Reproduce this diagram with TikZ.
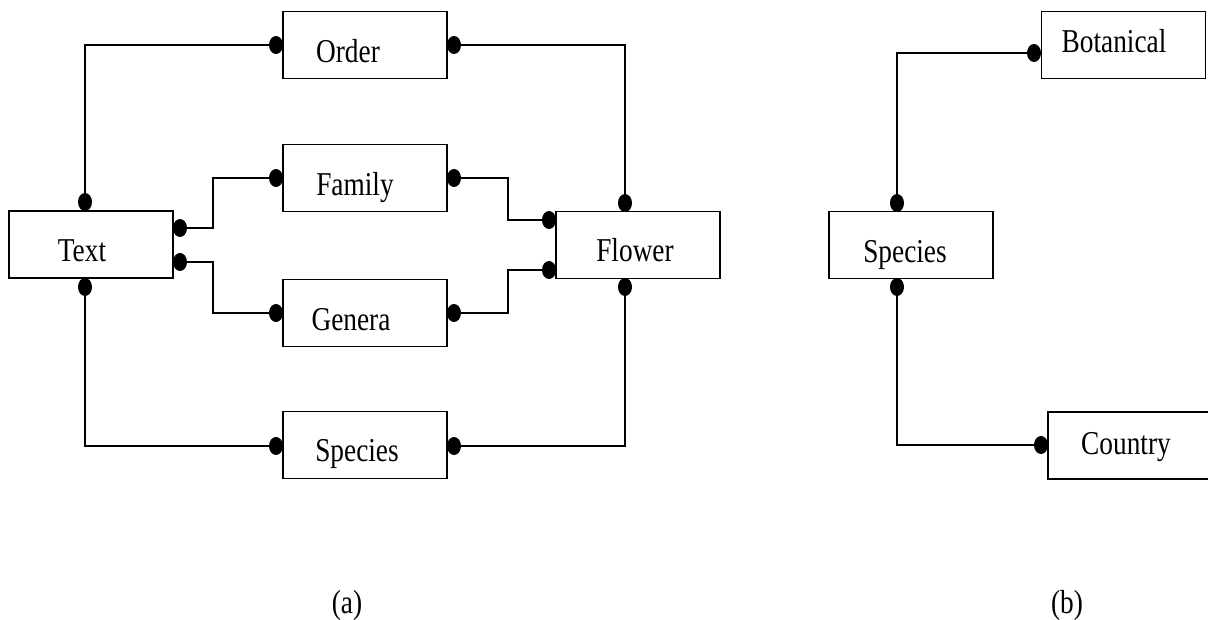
\documentclass[tikz,border=0pt]{standalone}
\usepackage{fontspec}
\setmainfont{Liberation Serif}[FakeStretch=0.82]
\usetikzlibrary{shapes.geometric}
\begin{document}
\begin{tikzpicture}[x=0.75pt,y=-0.75pt,every node/.style={font=\fontsize{25}{30}\selectfont}]
    \tikzset{
      entity/.style={draw,rectangle,line width=1.1pt,minimum width=123pt,
        minimum height=50pt,inner sep=0pt},
      dot/.style={ellipse,fill=black,minimum width=10.5pt,minimum height=13.5pt,
        inner sep=0pt},
      entname/.style={anchor=base,inner sep=0pt},
      link/.style={line width=1.1pt}
    }
    \useasboundingbox (0,0) rectangle (1208,620);

    \node[entity] (text) at (91,244.5) {};
    \node[entity] (order) at (365,45) {};
    \node[entity] (family) at (365,178) {};
    \node[entity] (genera) at (365,313) {};
    \node[entity] (species) at (365,445) {};
    \node[entity] (flower) at (638,245) {};
    \node[entity] (speciesb) at (911,245) {};
    \node[entity] (botanical) at (1123.5,45) {};
    \node[entity] (country) at (1130,445.5) {};

    \node[entname] (text-t) at (82,262) {Text};
    \node[entname] (order-t) at (348,63) {Order};
    \node[entname] (family-t) at (355,196) {Family};
    \node[entname] (genera-t) at (351,331) {Genera};
    \node[entname] (species-t) at (357,462) {Species};
    \node[entname] (flower-t) at (635,262) {Flower};
    \node[entname] (speciesb-t) at (905,263) {Species};
    \node[entname] (botanical-t) at (1114,53) {Botanical};
    \node[entname] (country-t) at (1126,455) {Country};

    \node[dot] (text-n) at (85,202) {};
    \node[dot] (text-s) at (85,287) {};
    \node[dot] (text-e1) at (180,228) {};
    \node[dot] (text-e2) at (180,262) {};
    \node[dot] (order-w) at (276,45) {};
    \node[dot] (order-e) at (454,45) {};
    \node[dot] (family-w) at (276,178) {};
    \node[dot] (family-e) at (454,178) {};
    \node[dot] (genera-w) at (276,313) {};
    \node[dot] (genera-e) at (454,313) {};
    \node[dot] (species-w) at (276,446) {};
    \node[dot] (species-e) at (454,446) {};
    \node[dot] (flower-n) at (625,203) {};
    \node[dot] (flower-s) at (625,287) {};
    \node[dot] (flower-w1) at (549,220) {};
    \node[dot] (flower-w2) at (549,270) {};
    \node[dot] (speciesb-n) at (897,203) {};
    \node[dot] (speciesb-s) at (897,287) {};
    \node[dot] (botanical-w) at (1034,53) {};
    \node[dot] (country-w) at (1041,445) {};

    \draw[link] (text-n) |- (order-w);
    \draw[link] (order-e) -| (flower-n);
    \draw[link] (text-e1) -- ++(33,0) |- (family-w);
    \draw[link] (text-e2) -- ++(33,0) |- (genera-w);
    \draw[link] (family-e) -- ++(54,0) |- (flower-w1);
    \draw[link] (genera-e) -- ++(54,0) |- (flower-w2);
    \draw[link] (text-s) |- (species-w);
    \draw[link] (species-e) -| (flower-s);
    \draw[link] (speciesb-n) |- (botanical-w);
    \draw[link] (speciesb-s) |- (country-w);

    \node (cap-a) at (347,605) {(a)};
    \node (cap-b) at (1067,605) {(b)};
  \end{tikzpicture}
\end{document}
